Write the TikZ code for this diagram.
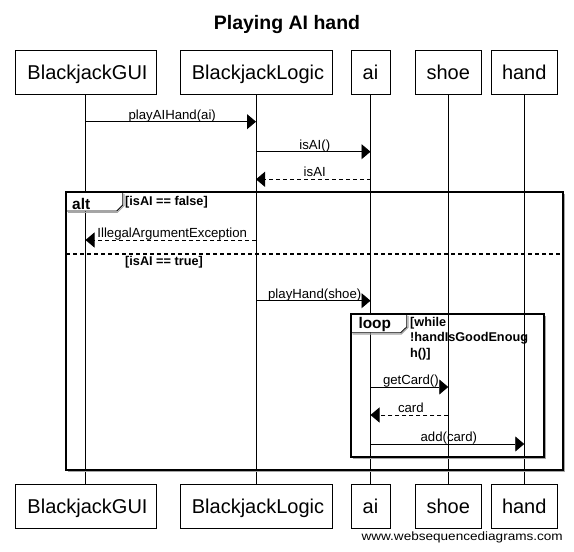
\documentclass[tikz,border=0pt]{standalone}
\usepackage{fontspec}
\setmainfont{Liberation Sans}
\usetikzlibrary{arrows.meta}
\begin{document}
\begin{tikzpicture}[x=1pt,y=-1pt,
  part/.style={draw, line width=0.9pt, minimum height=44pt, inner sep=0pt, text height=14.3pt, text depth=0pt, font=\fontsize{20}{21}\selectfont},
  life/.style={line width=0.9pt},
  msg/.style={line width=0.9pt, -{Triangle[length=9pt,width=15pt]}},
  ret/.style={msg, dash pattern=on 4pt off 3pt},
  lbl/.style={anchor=base, yshift=2.7pt, xshift=1.5pt, inner sep=0pt, font=\fontsize{13.2}{15}\selectfont},
  frm/.style={line width=1.6pt},
  sep/.style={line width=1.6pt, dash pattern=on 4pt off 3pt},
  shd/.style={line width=1.2pt, gray!70},
  tabbox/.style={line width=0.9pt, fill=white},
  cond/.style={anchor=base west, inner sep=0pt, font=\bfseries\fontsize{12.7}{15.5}\selectfont},
  op/.style={anchor=base west, inner sep=0pt, font=\bfseries\fontsize{15.4}{17}\selectfont}
]
\useasboundingbox[fill=white] (0,0) rectangle (574,552);

\node[anchor=base, font=\bfseries\fontsize{19.5}{22}\selectfont] (title) at (287,29.5) {Playing AI hand};

% participants
\node[part, minimum width=141pt] (gui) at (85.5,72) {\hspace*{4pt}BlackjackGUI};
\node[part, minimum width=152pt] (logic) at (256,72) {\hspace*{4pt}BlackjackLogic};
\node[part, minimum width=39pt] (ai) at (370.5,72) {ai};
\node[part, minimum width=65.5pt] (shoe) at (448.25,72) {shoe};
\node[part, minimum width=65.5pt] (hand) at (524.25,72) {hand};

\node[part, minimum width=141pt] (guiB) at (85.5,506) {\hspace*{4pt}BlackjackGUI};
\node[part, minimum width=152pt] (logicB) at (256,506) {\hspace*{4pt}BlackjackLogic};
\node[part, minimum width=39pt] (aiB) at (370.5,506) {ai};
\node[part, minimum width=65.5pt] (shoeB) at (448.25,506) {shoe};
\node[part, minimum width=65.5pt] (handB) at (524.25,506) {hand};

% lifelines
\draw[life] (gui) -- (guiB);
\draw[life] (logic) -- (logicB);
\draw[life] (ai) -- (aiB);
\draw[life] (shoe) -- (shoeB);
\draw[life] (hand) -- (handB);

% alt frame
\draw[shd] (68,471.6) -- (564.6,471.6) -- (564.6,194);
\draw[tabbox] (66,192) -- (122.7,192) -- (122.7,205) -- (116.7,211) -- (66,211) -- cycle;
\draw[shd] (68,212.3) -- (117.3,212.3) -- (124,205.6) -- (124,194);
\draw[frm] (66,192) rectangle (563,470);
\draw[sep] (66,254) -- (563,254);
\node[op] (altlbl) at (72,209) {alt};
\node[cond] (c1) at (125,205.5) {[isAI == false]};
\node[cond] (c2) at (125,265) {[isAI == true]};

% loop frame
\draw[shd] (352.7,458.3) -- (545.6,458.3) -- (545.6,316);
\draw[tabbox] (350.7,314) -- (406.7,314) -- (406.7,327) -- (400.7,332.7) -- (350.7,332.7) -- cycle;
\draw[shd] (352.7,334) -- (401.3,334) -- (408,327.3) -- (408,316);
\draw[frm] (350.7,314) rectangle (544,456.7);
\node[op] (looplbl) at (358.3,328.5) {loop};
\node[cond] (w1) at (410,326.2) {[while};
\node[cond] (w2) at (410,341.5) {!handIsGoodEnoug};
\node[cond] (w3) at (410,357.2) {h()]};

% messages
\draw[msg] (gui |- 0,121.7) -- node[lbl]{playAIHand(ai)} (logic |- 0,121.7);
\draw[msg] (logic |- 0,151.7) -- node[lbl]{isAI()} (ai |- 0,151.7);
\draw[ret] (ai |- 0,179.3) -- node[lbl]{isAI} (logic |- 0,179.3);
\draw[ret] (logic |- 0,240) -- node[lbl]{IllegalArgumentException} (gui |- 0,240);
\draw[msg] (logic |- 0,300.7) -- node[lbl]{playHand(shoe)} (ai |- 0,300.7);
\draw[msg] (ai |- 0,387) -- node[lbl]{getCard()} (shoe |- 0,387);
\draw[ret] (shoe |- 0,415) -- node[lbl]{card} (ai |- 0,415);
\draw[msg] (ai |- 0,444) -- node[lbl]{add(card)} (hand |- 0,444);

\node[anchor=base east, inner sep=0pt, font=\fontsize{12}{14}\selectfont] (wm) at (563,540) {\scalebox{1.13}[1]{www.websequencediagrams.com}};
\end{tikzpicture}
\end{document}
